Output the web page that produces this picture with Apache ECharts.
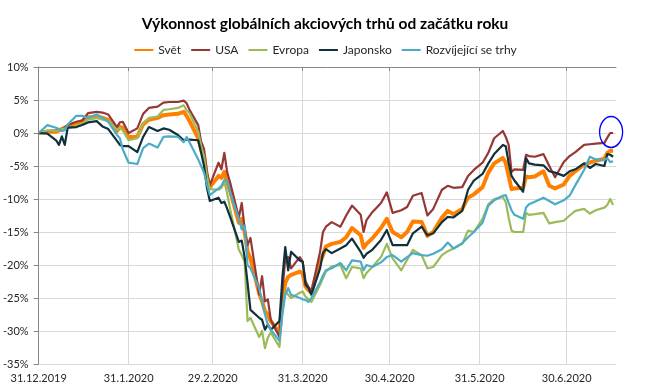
<!DOCTYPE html>
<html><head><meta charset="utf-8">
<script src="https://cdn.jsdelivr.net/npm/echarts@6/dist/echarts.min.js"></script>
<style>html,body{margin:0;padding:0;background:#fff}#c{width:650px;height:390px}</style>
</head><body><div id="c"></div>
<script>
const dates = [
'2019-12-31','2020-01-03','2020-01-06','2020-01-07','2020-01-08','2020-01-09','2020-01-10','2020-01-13','2020-01-15','2020-01-17',
'2020-01-20','2020-01-22','2020-01-24','2020-01-27','2020-01-28','2020-01-29','2020-01-31','2020-02-03','2020-02-05','2020-02-07',
'2020-02-10','2020-02-12','2020-02-14','2020-02-17','2020-02-19','2020-02-20','2020-02-21','2020-02-24','2020-02-25','2020-02-26',
'2020-02-27','2020-02-28','2020-03-02','2020-03-03','2020-03-04','2020-03-05','2020-03-06','2020-03-09','2020-03-10','2020-03-11',
'2020-03-12','2020-03-13','2020-03-16','2020-03-17','2020-03-18','2020-03-19','2020-03-20','2020-03-23','2020-03-24','2020-03-25',
'2020-03-26','2020-03-27','2020-03-30','2020-03-31','2020-04-01','2020-04-02','2020-04-03','2020-04-06','2020-04-07','2020-04-08',
'2020-04-10','2020-04-13','2020-04-15','2020-04-17','2020-04-20','2020-04-21','2020-04-22','2020-04-24','2020-04-27','2020-04-29',
'2020-05-01','2020-05-04','2020-05-06','2020-05-08','2020-05-11','2020-05-13','2020-05-15','2020-05-18','2020-05-20','2020-05-22',
'2020-05-25','2020-05-27','2020-05-29','2020-06-01','2020-06-03','2020-06-05','2020-06-08','2020-06-09','2020-06-10','2020-06-11',
'2020-06-12','2020-06-15','2020-06-16','2020-06-17','2020-06-19','2020-06-22','2020-06-24','2020-06-26','2020-06-29','2020-07-01',
'2020-07-03','2020-07-06','2020-07-08','2020-07-10','2020-07-13','2020-07-14','2020-07-15','2020-07-16'];

const svet = [
0,0.2,0.2,0.4,0.6,0.8,1.0,1.5,1.8,2.4,
2.4,2.3,2.0,0.3,0.9,0.8,-0.6,-0.6,1.3,2.0,
2.3,2.7,2.8,2.9,3.2,2.6,1.8,-0.8,-2.5,-3.5,
-6.5,-8.2,-6.5,-6.8,-5.9,-7.5,-8.8,-13.6,-13.0,-15.0,
-18.0,-19.0,-24.3,-25.5,-27.0,-27.5,-28.5,-30.3,-25.5,-22.7,
-21.8,-21.5,-21.0,-21.3,-23.3,-23.8,-24.2,-19.5,-18.5,-17.2,
-16.8,-16.5,-15.8,-14.4,-15.5,-17.4,-16.8,-16.0,-14.4,-13.0,
-15.0,-15.8,-15.0,-13.4,-13.5,-15.6,-15.0,-12.8,-11.8,-12.3,
-11.5,-9.8,-9.3,-8.2,-6.0,-4.6,-3.8,-4.5,-6.5,-8.5,
-8.4,-8.3,-6.6,-6.7,-6.6,-5.8,-8.0,-8.4,-7.8,-6.5,
-5.8,-4.8,-4.5,-4.2,-3.9,-3.0,-2.7,-2.7];

const usa = [
0,0.3,0.4,0.5,0.6,0.9,1.2,1.7,1.9,3.0,
3.2,3.1,2.8,0.9,1.6,1.7,0.0,0.7,2.9,3.8,
4.0,4.6,4.7,4.7,4.9,4.5,3.5,1.2,-1.3,-2.4,
-6.0,-7.9,-4.5,-5.5,-3.0,-6.0,-7.5,-12.8,-10.6,-14.5,
-17.0,-15.9,-24.5,-21.7,-25.5,-25.2,-28.3,-30.9,-24.0,-19.0,
-18.8,-20.5,-18.8,-19.5,-22.5,-23.3,-24.0,-18.0,-15.0,-14.2,
-13.5,-14.2,-12.5,-11.0,-12.4,-15.0,-13.2,-12.0,-10.6,-9.0,
-12.1,-11.7,-11.2,-9.5,-9.1,-12.5,-11.5,-8.6,-8.0,-8.3,
-8.2,-6.5,-5.6,-4.5,-3.0,-0.8,0.3,-0.6,-1.8,-5.9,
-5.5,-5.6,-3.3,-3.5,-3.6,-3.2,-5.0,-6.7,-4.4,-3.5,
-2.9,-1.8,-1.7,-1.6,-1.5,-0.7,0.0,0.0];

const evropa = [
0,0.4,0.3,0.5,0.6,0.7,0.8,1.0,1.4,2.0,
2.3,2.0,1.8,0.5,0.8,0.4,-1.1,-0.8,1.5,2.3,
2.5,3.5,3.6,3.8,4.2,3.4,3.0,0.2,-2.0,-3.5,
-6.5,-8.5,-8.6,-8.3,-7.4,-9.2,-11.5,-17.7,-18.5,-19.5,
-28.5,-28.0,-30.9,-30.0,-32.6,-31.0,-30.2,-32.4,-27.0,-24.0,
-24.5,-25.0,-24.2,-24.0,-24.8,-25.2,-25.6,-23.0,-22.0,-21.0,
-20.2,-20.0,-22.0,-20.3,-20.5,-22.0,-21.2,-20.3,-18.8,-16.8,
-19.0,-20.8,-19.2,-17.7,-18.5,-20.5,-20.3,-18.5,-17.9,-17.5,
-16.8,-14.8,-15.0,-13.0,-10.8,-10.0,-9.7,-10.5,-12.8,-14.8,
-15.0,-15.0,-12.1,-12.4,-12.3,-12.1,-13.7,-13.5,-13.3,-12.5,
-11.8,-11.5,-12.2,-11.7,-11.3,-10.9,-10.0,-10.9];

const japonsko = [
0,-0.1,-1.1,-1.8,-0.5,-1.8,0.8,0.9,1.2,1.6,
1.8,1.0,0.6,-1.2,-1.8,-2.0,-2.0,-2.9,-0.6,0.9,
0.3,0.7,0.5,-0.3,-1.1,-1.0,-1.0,-1.1,-3.0,-5.0,
-8.3,-10.3,-9.8,-10.6,-10.4,-11.5,-12.7,-16.5,-16.3,-18.8,
-22.7,-26.8,-28.0,-28.3,-29.8,-29.0,-29.8,-28.5,-22.0,-17.3,
-20.8,-18.0,-19.3,-19.5,-23.0,-23.5,-24.5,-20.5,-18.2,-17.6,
-18.2,-17.5,-17.0,-16.0,-18.0,-18.9,-18.3,-17.7,-16.2,-14.7,
-17.0,-17.0,-17.0,-15.2,-14.2,-15.5,-15.2,-13.5,-12.7,-12.8,
-11.8,-8.6,-7.2,-6.2,-4.6,-3.2,-1.8,-2.0,-4.5,-6.5,
-7.2,-8.9,-3.8,-4.6,-4.8,-4.9,-5.8,-6.0,-6.5,-5.8,
-5.5,-4.6,-5.3,-4.7,-5.0,-3.2,-3.3,-3.6];

const rozvijejici = [
0,1.2,0.8,0.6,0.3,0.4,1.3,2.6,2.6,2.3,
2.8,2.3,1.7,-0.3,-0.8,-2.5,-4.5,-4.7,-2.3,-1.6,
-2.2,-0.6,-0.5,-0.6,-1.4,-0.6,-1.4,-4.0,-5.0,-6.0,
-7.8,-9.4,-8.4,-8.0,-7.1,-7.3,-9.0,-13.0,-14.6,-14.0,
-20.0,-20.5,-23.5,-25.5,-27.5,-29.0,-29.8,-31.5,-27.5,-24.5,
-23.5,-24.5,-25.0,-25.2,-25.3,-25.6,-25.0,-22.6,-21.6,-20.8,
-20.5,-19.7,-20.8,-19.3,-19.5,-20.8,-20.0,-20.3,-19.6,-18.8,
-18.5,-19.5,-18.8,-18.2,-18.5,-18.6,-18.3,-17.6,-16.6,-17.5,
-16.7,-15.8,-15.0,-13.6,-11.0,-10.2,-9.5,-9.4,-10.6,-11.7,
-12.4,-13.0,-11.3,-10.8,-10.4,-9.8,-10.3,-10.8,-10.2,-9.5,
-7.9,-5.6,-3.6,-4.0,-4.1,-3.8,-4.4,-4.3];

const seriesNames = ['Svět','USA','Evropa','Japonsko','Rozvíjející se trhy'];
const tickDates = ['2019-12-31','2020-01-31','2020-02-29','2020-03-31','2020-04-30','2020-05-31','2020-06-30'];
const axisStart = '2019-12-31';
const axisEnd = '2020-07-17';
const yMin = -35, yMax = 10, yStep = 5;
const chartTitle = 'Výkonnost globálních akciových trhů od začátku roku';

const DAY = 86400000;
function utc(s){const p=s.split('-');return Date.UTC(+p[0],+p[1]-1,+p[2]);}
const base = utc(axisStart);
function dayNo(s){return Math.round((utc(s)-base)/DAY);}
function dayLabel(n){const d=new Date(base+n*DAY);return d.getUTCDate()+'.'+(d.getUTCMonth()+1)+'.'+d.getUTCFullYear();}
function pairs(arr){return dates.map((d,i)=>[dayNo(d),arr[i]]);}
const tickDays = tickDates.map(dayNo);
const FONT = 'Lato';

const colors = ['#FF8000','#953735','#9BBB59','#10303C','#4BACC6'];
const widths = [4,2.2,2.2,2.2,2.2];
const values = [svet, usa, evropa, japonsko, rozvijejici];

const chart = echarts.init(document.getElementById('c'), null, {renderer:'canvas'});
const series = seriesNames.map((n,i)=>({
  name:n, type:'line', xAxisIndex:0, yAxisIndex:0,
  data:pairs(values[i]), symbol:'none', showSymbol:false,
  lineStyle:{color:colors[i], width:widths[i], join:'round'},
  itemStyle:{color:colors[i]},
  z: 2+i, animation:false
}));
const last = dates.length-1;
series[1].markPoint = {
  silent:true, symbol:'circle', symbolSize:[23,31], symbolOffset:[-2,-1],
  itemStyle:{color:'rgba(0,0,0,0)', borderColor:'#0000FF', borderWidth:1.5},
  label:{show:false},
  data:[{coord:[dayNo(dates[last]), usa[last]]}]
};

chart.setOption({
  animation:false,
  backgroundColor:'#fff',
  textStyle:{fontFamily:FONT},
  title:{text:chartTitle, left:'center', top:11,
    textStyle:{fontSize:15.5, fontWeight:'bold', color:'#000', fontFamily:FONT}},
  legend:{top:39, left:'center', itemWidth:19, itemHeight:8, itemGap:9,
    itemStyle:{opacity:0},
    textStyle:{fontSize:12, color:'#262626', fontFamily:FONT}, data:seriesNames},
  grid:{left:38, right:34, top:67, bottom:26},
  xAxis:[{
    type:'value', min:0, max:dayNo(axisEnd),
    axisLine:{show:false}, axisTick:{show:false, customValues:tickDays},
    axisLabel:{customValues:tickDays, fontSize:11, color:'#262626', margin:9, fontFamily:FONT,
      formatter:function(v){return dayLabel(v);}},
    splitLine:{show:true, lineStyle:{color:'#D9D9D9', width:1}}
  },{
    type:'value', min:0, max:dayNo(axisEnd), position:'top',
    axisLine:{show:true, onZero:true, lineStyle:{color:'#868686', width:1}},
    axisTick:{show:true, inside:true, length:4, customValues:tickDays, lineStyle:{color:'#868686'}},
    axisLabel:{show:false}, splitLine:{show:false}
  }],
  yAxis:{
    type:'value', min:yMin, max:yMax, interval:yStep,
    axisLine:{show:true, lineStyle:{color:'#868686'}},
    axisTick:{show:true, length:5, lineStyle:{color:'#868686'}},
    axisLabel:{formatter:'{value}%', fontSize:11, color:'#262626', margin:10, fontFamily:FONT},
    splitLine:{show:true, lineStyle:{color:'#D9D9D9', width:1}}
  },
  series:series
});
</script></body></html>
